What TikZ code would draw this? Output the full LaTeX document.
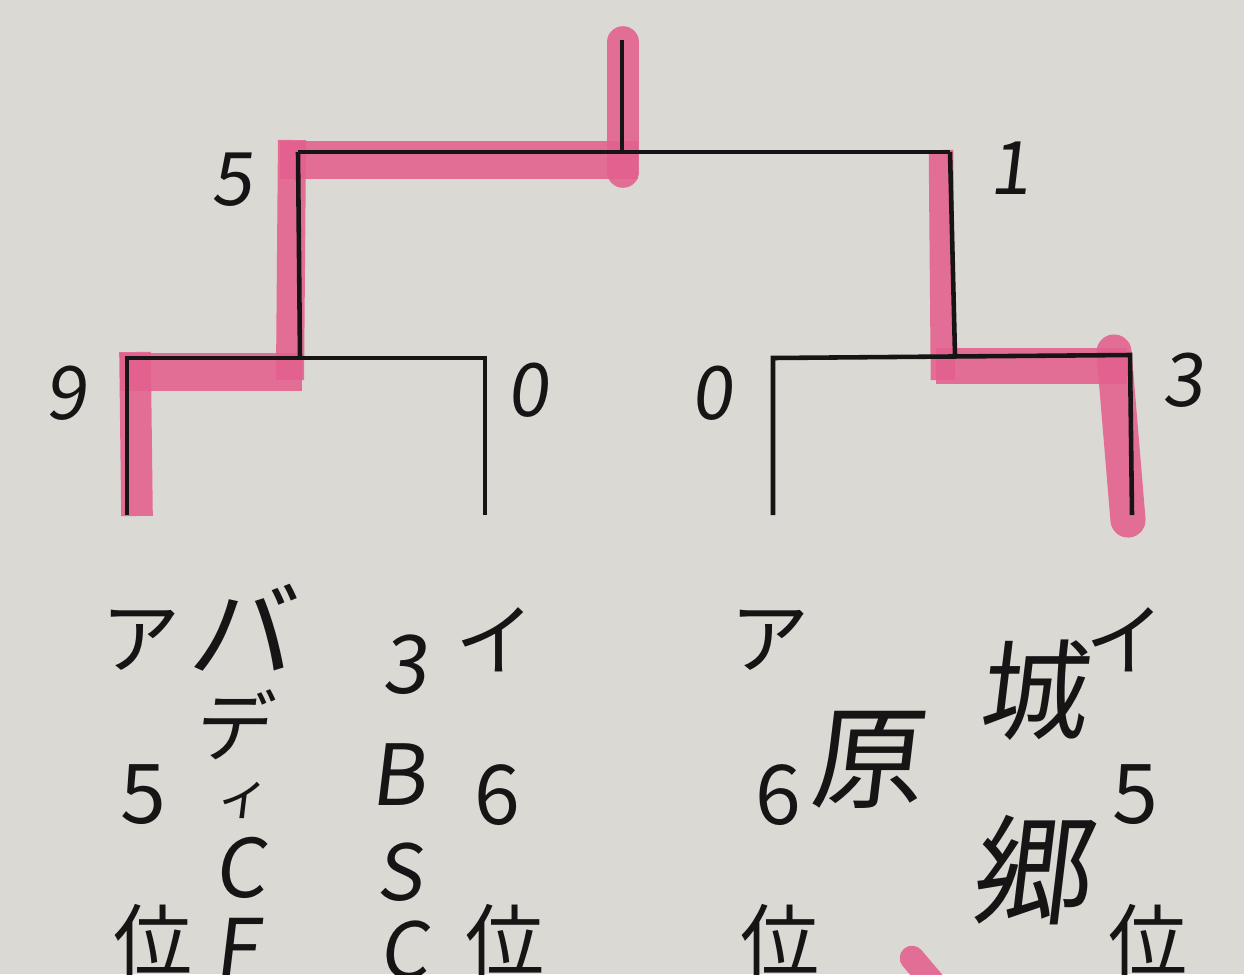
\documentclass[tikz,border=0pt]{standalone}
\usepackage{fontspec}
\newfontfamily\jp{Noto Sans CJK JP}
\newfontfamily\hand[FakeSlant=0.12]{Noto Sans CJK JP}
\definecolor{paper}{RGB}{219,217,212}
\definecolor{hl}{RGB}{228,96,142}
\definecolor{ink}{RGB}{22,20,20}
\tikzset{
  wire/.style={draw=ink, line width=2.6pt},
  marker/.style={draw=hl, line width=#1, opacity=0.88},
  marker/.default=17pt,
  score/.style={inner sep=0pt, font=\hand\fontsize{42}{42}\selectfont, text=ink},
  lab/.style={inner sep=0pt, font=\jp\fontsize{45}{45}\selectfont, text=ink},
  num/.style={inner sep=0pt, font=\jp\fontsize{47}{47}\selectfont, text=ink},
  hw/.style={inner sep=0pt, font=\hand\fontsize{#1}{#1}\selectfont, text=ink},
  hw/.default=50
}
\begin{document}
\begin{tikzpicture}[x=0.02cm, y=-0.02cm]
\fill[paper] (0,0) rectangle (1244,974);
\useasboundingbox (0,0) rectangle (1244,974);
% joints
\coordinate (top) at (622,40);
\coordinate (root) at (622,152);
\coordinate (tl) at (298,152);
\coordinate (tr) at (950,152);
\coordinate (ml) at (300,358);
\coordinate (mr) at (955,355);
\coordinate (l1t) at (127,358);
\coordinate (l2t) at (485,358);
\coordinate (l3t) at (773,358);
\coordinate (l4t) at (1130,355);
\coordinate (l1) at (127,515);
\coordinate (l2) at (485,515);
\coordinate (l3) at (773,515);
\coordinate (l4) at (1132,515);
% highlighter
\draw[marker=18pt, line cap=round] (623,42) -- (623,172);
\draw[marker=22pt] (638,160) -- (280,160);
\draw[marker=16pt] (292,140) -- (290,380);
\draw[marker=22pt] (302,372) -- (120,372);
\draw[marker=18pt] (135,352) -- (137,516);
\draw[marker=14pt] (941,150) -- (943,380);
\draw[marker=20pt] (936,366) -- (1127,366);
\draw[marker=20pt, line cap=round] (1114,352) -- (1128,520);
\draw[marker=14pt, line cap=round] (912,958) -- (935,985);
% bracket wires
\draw[wire] (top) -- (root);
\draw[wire] (tl) -- (tr);
\draw[wire] (tl) -- (ml);
\draw[wire] (tr) -- (mr);
\draw[wire] (l1) -- (l1t) -- (l2t) -- (l2);
\draw[wire] (l3) -- (l3t) -- (l4t) -- (l4);
% scores
\node[score] (s5) at (232,180) {5};
\node[score] (s1) at (1010,168) {1};
\node[score] (s9) at (66,393) {9};
\node[score] (s0a) at (528,390) {0};
\node[score] (s0b) at (712,393) {0};
\node[score] (s3) at (1183,380) {3};
% printed labels
\node[lab] (a1) at (141,640) {ア};
\node[num] (n1) at (143,795) {5};
\node[lab] (p1) at (153,940) {位};
\node[lab] (a2) at (495,640) {イ};
\node[num] (n2) at (497,795) {6};
\node[lab] (p2) at (505,940) {位};
\node[lab] (a3) at (770,640) {ア};
\node[num] (n3) at (778,795) {6};
\node[lab] (p3) at (780,940) {位};
\node[lab] (a4) at (1125,640) {イ};
\node[num] (n4) at (1135,795) {5};
\node[lab] (p4) at (1148,940) {位};
% handwritten team names
\node[hw=60] (b1) at (240,628) {バ};
\node[hw=44] (b2) at (232,725) {デ};
\node[hw=30] (b3) at (242,800) {ィ};
\node[hw=46] (b4) at (240,868) {C};
\node[hw=46] (b5) at (237,948) {F};
\node[hw=46] (c1) at (405,665) {3};
\node[hw=48] (c2) at (398,775) {B};
\node[hw=44] (c3) at (400,872) {S};
\node[hw=44] (c4) at (404,950) {C};
\node[hw=64] (h1) at (866,760) {原};
\node[hw=62] (k1) at (1032,690) {城};
\node[hw=68] (k2) at (1030,870) {郷};
\end{tikzpicture}
\end{document}
